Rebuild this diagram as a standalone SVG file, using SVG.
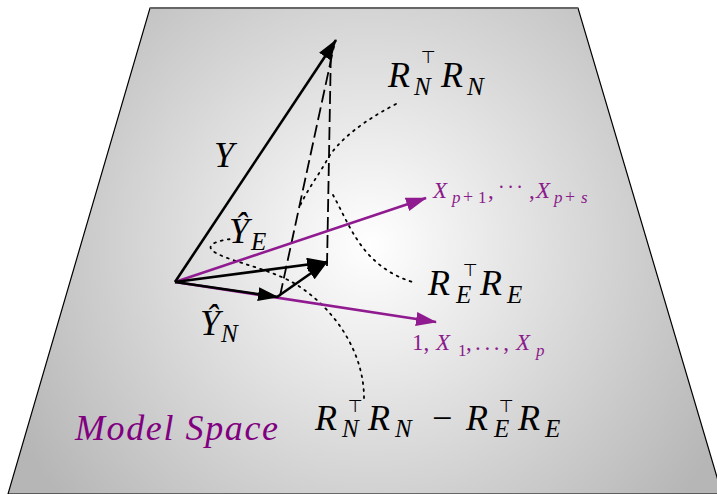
<svg xmlns="http://www.w3.org/2000/svg" width="717" height="494" viewBox="0 0 717 494">
<style>
.vec{fill:none;stroke:#000;stroke-width:2.6}
.pv{fill:none;stroke:#901a90;stroke-width:2.6}
.dash{fill:none;stroke:#000;stroke-width:1.8;stroke-dasharray:13 5}
.dot{fill:none;stroke:#000;stroke-width:1.8;stroke-dasharray:1.8 5.2;stroke-linecap:round}
</style>
<defs>
<radialGradient id="bg" gradientUnits="userSpaceOnUse" cx="370" cy="245" r="400">
<stop offset="0" stop-color="#ffffff"/>
<stop offset="1" stop-color="#b6b6b6"/>
</radialGradient>
<marker id="ab" markerUnits="userSpaceOnUse" markerWidth="22" markerHeight="16" refX="20" refY="7" orient="auto">
<path d="M0,0 L21,7 L0,14 z" fill="#000"/>
</marker>
<marker id="ap" markerUnits="userSpaceOnUse" markerWidth="22" markerHeight="16" refX="20" refY="7" orient="auto">
<path d="M0,0 L21,7 L0,14 z" fill="#901a90"/>
</marker>
</defs>
<g id="plane">
<polygon points="150,8 578,8 722,494 8,494" fill="url(#bg)" stroke="#000" stroke-width="1.2"/>
<line x1="150" y1="8" x2="578" y2="8" stroke="#666" stroke-width="2"/>
</g>
<g id="connectors">
<path class="dot" d="M396,104 C365,120 338,140 327,160 C318,176 306,192 300,206"/>
<path class="dot" d="M333,195 C350,225 362,268 416,283"/>
<path class="dot" d="M364,398 C364,350 332,305 292,282 C262,266 222,260 212,250 C206,244 220,240 232,239"/>
<line class="dash" x1="280" y1="296" x2="334" y2="46"/>
<line class="dash" x1="327" y1="266" x2="331" y2="46"/>
<line class="pv" x1="175" y1="282" x2="426" y2="198" marker-end="url(#ap)"/>
<line class="pv" x1="175" y1="282" x2="436" y2="322" marker-end="url(#ap)"/>
<line class="vec" x1="175" y1="282" x2="336" y2="40" marker-end="url(#ab)"/>
<line class="vec" x1="175" y1="282" x2="327" y2="262" marker-end="url(#ab)"/>
<line class="vec" x1="175" y1="282" x2="278" y2="297" marker-end="url(#ab)"/>
<line class="vec" x1="277" y1="297" x2="327" y2="262" marker-end="url(#ab)"/>
</g>
<g font-family="Liberation Serif, Times New Roman, serif" font-style="italic" fill="#000">
<g id="label-Y"><text x="214" y="167" font-size="36">Y</text></g>
<g id="label-YE"><text x="229" y="243" font-size="36">Ŷ</text><text x="251" y="250" font-size="25">E</text></g>
<g id="label-YN"><text x="200" y="335" font-size="36">Ŷ</text><text x="221" y="342" font-size="25">N</text></g>
<g id="label-RNRN">
<text x="388" y="87" font-size="36">R</text><text x="421" y="63" font-size="17" font-style="normal" font-family="DejaVu Sans, sans-serif">⊤</text><text x="414" y="95" font-size="25">N</text>
<text x="441" y="87" font-size="36">R</text><text x="467" y="95" font-size="25">N</text>
</g>
<g id="label-RERE">
<text x="428" y="295" font-size="36">R</text><text x="463" y="276" font-size="17" font-style="normal" font-family="DejaVu Sans, sans-serif">⊤</text><text x="456" y="303" font-size="25">E</text>
<text x="480" y="295" font-size="36">R</text><text x="507" y="303" font-size="25">E</text>
</g>
<g id="label-diff">
<text x="315" y="430" font-size="36">R</text><text x="348" y="412" font-size="17" font-style="normal" font-family="DejaVu Sans, sans-serif">⊤</text><text x="342" y="437" font-size="25">N</text>
<text x="368" y="430" font-size="36">R</text><text x="395" y="437" font-size="25">N</text>
<text x="432" y="430" font-size="36" font-style="normal">−</text>
<text x="466" y="430" font-size="36">R</text><text x="499" y="412" font-size="17" font-style="normal" font-family="DejaVu Sans, sans-serif">⊤</text><text x="494" y="437" font-size="25">E</text>
<text x="518" y="430" font-size="36">R</text><text x="545" y="437" font-size="25">E</text>
</g>
</g>
<g font-family="Liberation Serif, Times New Roman, serif" fill="#8b1a8b">
<g id="label-Xps">
<text x="433" y="198" font-size="23" font-style="italic">X</text><text x="452" y="203" font-size="17" font-style="italic">p</text><text x="463" y="203" font-size="18">+</text><text x="478" y="203" font-size="17">1</text><text x="488" y="198" font-size="23">,</text>
<text x="498" y="194" font-size="20" textLength="25" lengthAdjust="spacing">· · ·</text><text x="529" y="198" font-size="23">,</text>
<text x="536" y="198" font-size="23" font-style="italic">X</text><text x="554" y="203" font-size="17" font-style="italic">p</text><text x="565" y="203" font-size="18">+</text><text x="581" y="203" font-size="17" font-style="italic">s</text>
</g>
<g id="label-X1p">
<text x="412" y="350" font-size="23">1,</text>
<text x="436" y="350" font-size="23" font-style="italic">X</text><text x="458" y="356" font-size="17">1</text><text x="466" y="350" font-size="23">,</text>
<text x="475" y="350" font-size="23" textLength="34" lengthAdjust="spacing">. . . ,</text>
<text x="516" y="350" font-size="23" font-style="italic">X</text><text x="536" y="356" font-size="17" font-style="italic">p</text>
</g>
<g id="label-model">
<text x="75" y="440" font-size="36" font-style="italic" fill="#800080" textLength="203" lengthAdjust="spacing">Model Space</text>
</g>
</g>
</svg>
